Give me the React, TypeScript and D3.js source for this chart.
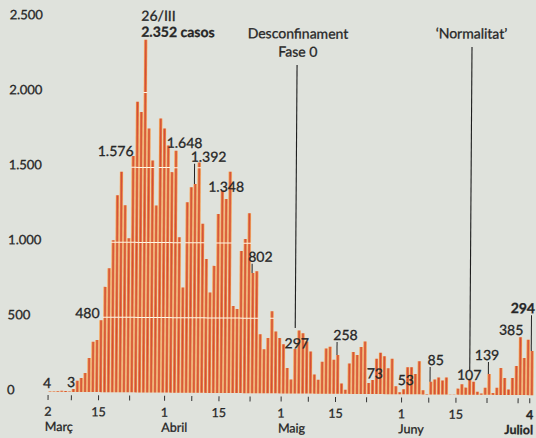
import React from "react";
import * as d3 from "d3";

if (typeof document !== "undefined") {
  document.body.style.margin = "0";
}

// ---------- DATA ----------
const startDate = "2020-03-02";

// daily new cases, 2 March -> 4 July 2020
const dailyCases = [
  4, 3, 5, 7, 6, 3, 20, 75, 93, 127,
  227, 335, 347, 480, 702, 827, 1013, 1313, 1470, 1247,
  1027, 1576, 1937, 1870, 2352, 1760, 1547, 1247, 1827, 1760,
  1648, 1470, 1613, 1036, 702, 1270, 1370, 1392, 1536, 1127,
  893, 669, 847, 1193, 1348, 1293, 1476, 580, 560, 947,
  1027, 1200, 802, 813, 393, 293, 369, 547, 413, 369,
  327, 169, 93, 297, 420, 402, 347, 280, 127, 93,
  213, 302, 313, 227, 258, 69, 27, 202, 280, 260,
  313, 350, 73, 93, 236, 276, 253, 173, 236, 53,
  13, 33, 180, 180, 136, 220, 27, 2, 85, 100,
  113, 93, 113, 2, 2, 40, 69, 47, 107, 87,
  20, 9, 47, 139, 13, 47, 180, 113, 36, 113,
  193, 385, 247, 369, 294,
];

const yTickValues = [0, 500, 1000, 1500, 2000, 2500];
const gridValues = [500, 1000, 1500, 2000];

const tickDates = [
  "2020-03-02", "2020-03-08", "2020-03-15", "2020-03-23",
  "2020-04-01", "2020-04-08", "2020-04-15", "2020-04-23",
  "2020-05-01", "2020-05-08", "2020-05-15", "2020-05-23",
  "2020-06-01", "2020-06-08", "2020-06-15", "2020-06-23",
  "2020-07-01", "2020-07-04",
];
const dayLabelDates = ["2020-03-02", "2020-03-15", "2020-04-01", "2020-04-15", "2020-05-01", "2020-05-15", "2020-06-01", "2020-06-15", "2020-07-04"];
const dayLabelTexts = ["2", "15", "1", "15", "1", "15", "1", "15", "4"];
const monthLabelDates = ["2020-03-02", "2020-04-01", "2020-05-01", "2020-06-01", "2020-07-04"];
const monthLabelTexts = ["Març", "Abril", "Maig", "Juny", "Juliol"];

// days (index into dailyCases) whose value is written on the chart
const annotatedDays = [0, 5, 13, 21, 30, 37, 44, 52, 63, 74, 82, 89, 98, 108, 113, 121, 124];
const peakDay = 24;
const peakDateText = "26/III";
const peakUnit = "casos";

const eventDays = [63, 108];
const eventTexts = [["Desconfinament", "Fase 0"], ["‘Normalitat’"]];

// ---------- LAYOUT (offsets of the written values from their bar) ----------
type Lay = { anchor: string; dx: number; dy: number; leader?: boolean; bold?: boolean };
const annotationLayout: Record<number, Lay> = {
  0: { anchor: "middle", dx: -3, dy: -3.2 },
  5: { anchor: "middle", dx: 1.5, dy: -4.4 },
  13: { anchor: "end", dx: -1.5, dy: -2 },
  21: { anchor: "end", dx: 0.3, dy: 0.2 },
  30: { anchor: "start", dx: -1.6, dy: 2.4 },
  37: { anchor: "start", dx: -4.7, dy: -22.3, leader: true },
  44: { anchor: "start", dx: -14.1, dy: 1 },
  52: { anchor: "start", dx: -4.7, dy: -11.2, leader: true },
  63: { anchor: "middle", dx: 1.7, dy: -0.6 },
  74: { anchor: "start", dx: -4.6, dy: -15.1, leader: true },
  82: { anchor: "start", dx: -2, dy: -4.7 },
  89: { anchor: "start", dx: 1.9, dy: -1.2 },
  98: { anchor: "start", dx: -3.3, dy: -16.6, leader: true },
  108: { anchor: "middle", dx: -0.5, dy: 1.3 },
  113: { anchor: "middle", dx: -2.3, dy: -14, leader: true },
  121: { anchor: "end", dx: 2.8, dy: -2.3 },
  124: { anchor: "end", dx: 2.7, dy: -37.8, leader: true, bold: true },
};
const eventLayout = [
  { textX: 296.7, textY: [38.3, 56.5], lineTop: 64.8, lineBottomGap: 21 },
  { textX: 470.2, textY: [37.1], lineTop: 45.6, lineBottomGap: 8.6 },
];

const W = 536;
const H = 438;
const FONT = "Lato, 'Open Sans', sans-serif";
const INK = "#262626";
const THICK = 0.3; // slight stroke to mimic the heavier print

const fmt = d3.formatLocale({ decimal: ",", thousands: ".", grouping: [3], currency: ["", "€"] }).format(",d");

export default function App() {
  const parse = d3.utcParse("%Y-%m-%d");
  const start = parse(startDate) as Date;
  const dates = dailyCases.map((_, i) => d3.utcDay.offset(start, i));
  const end = d3.utcDay.offset(start, dailyCases.length);

  const x = d3.scaleUtc().domain([start, end]).range([49.3, 534.9]);
  const y = d3.scaleLinear().domain([0, 2500]).range([393.3, 18.3]);

  const left = (i: number) => x(dates[i]);
  const right = (i: number) => x(d3.utcDay.offset(dates[i], 1));
  const center = (i: number) => (left(i) + right(i)) / 2;

  const txt = { fill: INK, stroke: INK, strokeWidth: THICK };

  return (
    <svg width={W} height={H} style={{ display: "block" }} fontFamily={FONT}>
      <defs>
        <linearGradient id="barGrad" x1="0" x2="1" y1="0" y2="0">
          <stop offset="0" stopColor="#f09a46" />
          <stop offset="0.5" stopColor="#d24b3b" />
          <stop offset="1" stopColor="#ec8e40" />
        </linearGradient>
      </defs>
      <rect width={W} height={H} fill="#dfe2dc" />
      <g transform="rotate(0.4 268 219)">
        {/* bars */}
        {dailyCases.map((v, i) => (
          <rect key={"h" + i} x={left(i)} y={y(v)} width={right(i) - left(i)} height={y(0) - y(v)} fill="#f1cfae" />
        ))}
        {dailyCases.map((v, i) => (
          <rect key={"b" + i} x={left(i) + 0.45} y={y(v)} width={right(i) - left(i) - 0.9} height={y(0) - y(v)} fill="url(#barGrad)" />
        ))}
        {/* white grid lines, visible across bars */}
        {gridValues.map((g) =>
          dailyCases.map((v, i) =>
            v > g ? (
              <line key={"g" + g + "-" + i} x1={left(i)} x2={right(i)} y1={y(g)} y2={y(g)} stroke="#fff6e8" strokeWidth={1} />
            ) : null
          )
        )}

        {/* y labels */}
        {yTickValues.map((t) => (
          <text key={"y" + t} x={8.3} y={y(t) + 2.7} fontSize={13} {...txt}>
            {fmt(t)}
          </text>
        ))}

        {/* x ticks */}
        {tickDates.map((d) => {
          const xx = x(parse(d) as Date);
          return <line key={"t" + d} x1={xx} x2={xx} y1={396.5} y2={401.5} stroke="#333" strokeWidth={1} />;
        })}
        {dayLabelDates.map((d, i) => (
          <text key={"dl" + d} x={x(parse(d) as Date)} y={417.4} fontSize={12.5} textAnchor="middle" {...txt} fontWeight={i === dayLabelDates.length - 1 ? 700 : 400}>
            {dayLabelTexts[i]}
          </text>
        ))}
        {monthLabelDates.map((d, i) => {
          const last = i === monthLabelDates.length - 1;
          const xx = x(parse(d) as Date);
          return (
            <text key={"ml" + d} x={last ? xx + 3.5 : xx - 3} y={432.4} fontSize={12.5} textAnchor={last ? "end" : "start"} {...txt} fontWeight={last ? 700 : 400}>
              {monthLabelTexts[i]}
            </text>
          );
        })}

        {/* event lines */}
        {eventDays.map((d, k) => {
          const lay = eventLayout[k];
          const cx = center(d);
          return (
            <g key={"ev" + d}>
              <line x1={cx} x2={cx} y1={lay.lineTop} y2={y(dailyCases[d]) - lay.lineBottomGap} stroke="#1e1e1e" strokeWidth={1.1} />
              {eventTexts[k].map((t, j) => (
                <text key={t} x={lay.textX} y={lay.textY[j]} fontSize={14} textAnchor="middle" {...txt}>
                  {t}
                </text>
              ))}
            </g>
          );
        })}

        {/* peak label */}
        <text x={center(peakDay) - 4.5} y={y(dailyCases[peakDay]) - 18.9} fontSize={14} {...txt}>
          {peakDateText}
        </text>
        <text x={center(peakDay) - 4.5} y={y(dailyCases[peakDay]) - 2.9} fontSize={14} fontWeight={700} {...txt}>
          {fmt(dailyCases[peakDay]) + " " + peakUnit}
        </text>

        {/* value annotations */}
        {annotatedDays.map((d) => {
          const lay = annotationLayout[d];
          const v = dailyCases[d];
          const cx = center(d);
          const ty = y(v) + lay.dy;
          return (
            <g key={"a" + d}>
              {lay.leader ? <line x1={cx - 0.8} x2={cx - 0.8} y1={ty + 2} y2={y(v)} stroke="#222" strokeWidth={1} /> : null}
              <text x={cx + lay.dx} y={ty} fontSize={14} textAnchor={lay.anchor} {...txt} fontWeight={lay.bold ? 700 : 400}>
                {fmt(v)}
              </text>
            </g>
          );
        })}
      </g>
    </svg>
  );
}
